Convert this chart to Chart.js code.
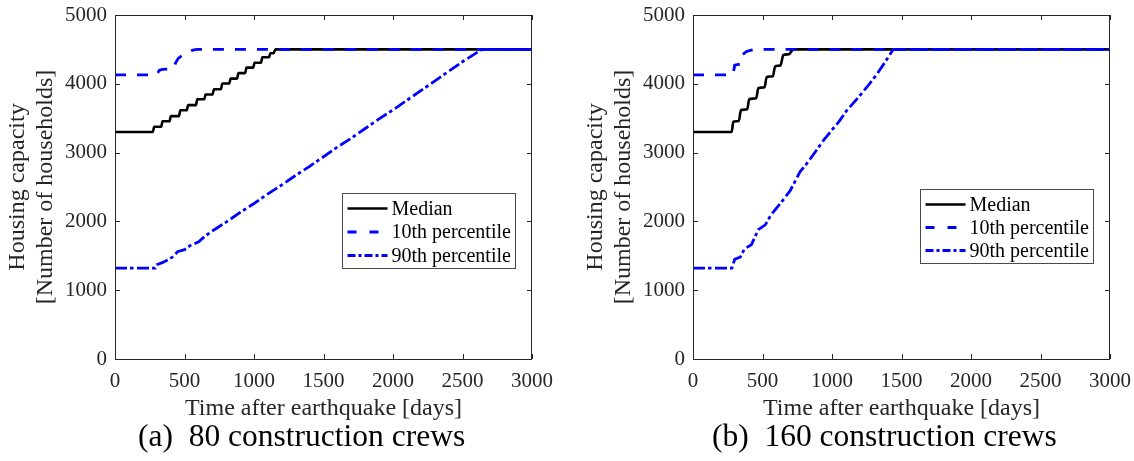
<!DOCTYPE html>
<html>
<head>
<meta charset="utf-8">
<script src="https://cdn.jsdelivr.net/npm/chart.js@4.4.1/dist/chart.umd.min.js"></script>
<style>
  html, body { margin: 0; padding: 0; background: #fff; }
  #wrap { position: relative; width: 1134px; height: 461px; overflow: hidden; }
  .panel { position: absolute; top: 0; width: 567px; height: 461px; }
  .caption {
    position: absolute; top: 420px;
    font-family: "Liberation Serif", "Times New Roman", serif;
    font-size: 31.5px; line-height: 32px; color: #000; white-space: pre;
  }
</style>
</head>
<body>
<div id="wrap">
  <div class="panel" style="left:0"><canvas id="chartA" width="567" height="461"></canvas></div>
  <div class="panel" style="left:567px"><canvas id="chartB" width="567" height="461"></canvas></div>
  <div class="caption" id="capA" style="left:138px"></div>
  <div class="caption" id="capB" style="left:712px"></div>
</div>
<script>
const xTicks = [0, 500, 1000, 1500, 2000, 2500, 3000];
const yTicks = [0, 1000, 2000, 3000, 4000, 5000];
const seriesNames = ["Median", "10th percentile", "90th percentile"];
const xTitle = "Time after earthquake [days]";
const yTitle = ["Housing capacity", "[Number of households]"];
const captions = ["(a)  80 construction crews", "(b)  160 construction crews"];

// (a) 80 construction crews
const medDaysA = [0, 272, 282, 332, 342, 392, 402, 460, 470, 516, 526, 582, 592, 642, 652, 702, 712, 762, 772, 822, 832, 878, 888, 936, 946, 994, 1004, 1050, 1060, 1108, 1118, 1140, 1155, 3000];
const medValsA = [3300, 3300, 3375, 3375, 3455, 3455, 3530, 3530, 3615, 3615, 3690, 3690, 3775, 3775, 3845, 3845, 3920, 3920, 4005, 4005, 4075, 4075, 4155, 4155, 4235, 4235, 4305, 4305, 4385, 4385, 4445, 4445, 4500, 4500];
const p10DaysA = [0, 300, 318, 340, 420, 435, 455, 500, 560, 590, 3000];
const p10ValsA = [4130, 4130, 4195, 4210, 4215, 4300, 4370, 4440, 4490, 4500, 4500];
const p90DaysA = [0, 290, 300, 340, 380, 420, 450, 500, 550, 600, 650, 700, 800, 900, 1000, 1100, 1200, 1300, 1400, 1500, 1600, 1700, 1800, 1900, 2000, 2100, 2200, 2300, 2400, 2500, 2600, 2640, 3000];
const p90ValsA = [1320, 1320, 1370, 1400, 1440, 1490, 1560, 1590, 1660, 1700, 1790, 1860, 1990, 2130, 2260, 2400, 2530, 2670, 2800, 2940, 3080, 3210, 3350, 3490, 3620, 3760, 3900, 4040, 4180, 4320, 4450, 4500, 4500];

// (b) 160 construction crews
const medDaysB = [0, 278, 290, 330, 345, 390, 405, 455, 470, 515, 530, 575, 590, 630, 650, 690, 722, 3000];
const medValsB = [3300, 3300, 3450, 3460, 3620, 3630, 3780, 3790, 3940, 3950, 4100, 4110, 4250, 4270, 4420, 4430, 4500, 4500];
const p10DaysB = [0, 288, 300, 345, 355, 385, 420, 440, 3000];
const p10ValsB = [4130, 4130, 4270, 4290, 4420, 4470, 4490, 4500, 4500];
const p90DaysB = [0, 280, 300, 340, 370, 420, 470, 520, 560, 640, 700, 770, 830, 940, 1000, 1050, 1105, 1180, 1250, 1320, 1380, 1440, 3000];
const p90ValsB = [1320, 1320, 1450, 1480, 1600, 1660, 1880, 1950, 2090, 2290, 2450, 2720, 2870, 3180, 3330, 3450, 3610, 3780, 3950, 4130, 4310, 4500, 4500];

const serif = "'Liberation Serif', 'Times New Roman', serif";
const axisColor = "#262626";

const toPoints = (days, vals) => days.map((d, i) => ({ x: d, y: vals[i] }));

// box, inward ticks and the legend (MATLAB look)
const framePlugin = {
  id: "frame",
  afterDatasetsDraw(chart, args, opts) {
    const { ctx, chartArea: a, scales } = chart;
    ctx.save();
    ctx.strokeStyle = axisColor;
    ctx.lineWidth = 1;
    ctx.setLineDash([]);
    ctx.beginPath();
    scales.x.ticks.forEach((t) => {
      const px = Math.round(scales.x.getPixelForValue(t.value)) + 0.5;
      ctx.moveTo(px, a.bottom);
      ctx.lineTo(px, a.bottom - 5);
      ctx.moveTo(px, a.top);
      ctx.lineTo(px, a.top + 5);
    });
    scales.y.ticks.forEach((t) => {
      const py = Math.round(scales.y.getPixelForValue(t.value)) + 0.5;
      ctx.moveTo(a.left, py);
      ctx.lineTo(a.left + 5, py);
      ctx.moveTo(a.right, py);
      ctx.lineTo(a.right - 5, py);
    });
    ctx.stroke();
    ctx.strokeRect(a.left + 0.5, a.top + 0.5, a.right - a.left - 1, a.bottom - a.top);

    // legend
    const bx = Math.round(a.left + opts.dx) + 0.5;
    const by = Math.round(a.top + opts.dy) + 0.5;
    ctx.fillStyle = "#fff";
    ctx.fillRect(bx, by, opts.w, opts.h);
    ctx.strokeStyle = "#4a4a4a";
    ctx.strokeRect(bx, by, opts.w, opts.h);
    ctx.font = "20px " + serif;
    ctx.textBaseline = "middle";
    chart.data.datasets.forEach((ds, i) => {
      const ry = by + opts.rows[i];
      ctx.strokeStyle = ds.borderColor;
      ctx.lineWidth = ds.borderWidth;
      ctx.setLineDash(ds.legendDash);
      ctx.beginPath();
      ctx.moveTo(bx + 5, ry);
      ctx.lineTo(bx + 45, ry);
      ctx.stroke();
      ctx.fillStyle = "#000";
      ctx.fillText(ds.label, bx + 49, ry + 1);
    });
    ctx.restore();
  }
};

function makeChart(id, med, p10, p90, pad, legendPos) {
  const ctx = document.getElementById(id).getContext("2d");
  return new Chart(ctx, {
    type: "line",
    data: {
      datasets: [
        {
          label: seriesNames[0],
          data: med,
          borderColor: "#000000",
          borderWidth: 2.6,
          cubicInterpolationMode: "monotone",
          legendDash: [],
          order: 3,
        },
        {
          label: seriesNames[1],
          data: p10,
          borderColor: "#0000ff",
          borderWidth: 2.8,
          borderDash: [11, 11],
          legendDash: [9, 13],
          order: 2,
        },
        {
          label: seriesNames[2],
          data: p90,
          borderColor: "#0000ff",
          borderWidth: 2.8,
          borderDash: [12, 3, 3.5, 3.5],
          legendDash: [8, 3, 3, 3],
          order: 1,
        },
      ],
    },
    options: {
      responsive: false,
      animation: false,
      devicePixelRatio: 1,
      layout: { padding: pad },
      elements: { point: { radius: 0 }, line: { tension: 0 } },
      plugins: {
        legend: { display: false },
        tooltip: { enabled: false },
        frame: legendPos,
      },
      scales: {
        x: {
          type: "linear",
          min: 0,
          max: 3000,
          afterBuildTicks: (s) => { s.ticks = xTicks.map((v) => ({ value: v })); },
          afterFit: (s) => {
            s.height = 102;
            s.paddingLeft = 0;
            s.paddingRight = 0;
          },
          grid: { display: false, drawTicks: false },
          border: { display: false },
          ticks: {
            padding: 10,
            color: axisColor,
            font: { family: serif, size: 21 },
            maxRotation: 0,
            callback: (v) => String(v),
          },
          title: {
            display: true,
            text: xTitle,
            color: axisColor,
            font: { family: serif, size: 24 },
            padding: { top: 0, bottom: 38 },
          },
        },
        y: {
          type: "linear",
          min: 0,
          max: 5000,
          afterBuildTicks: (s) => { s.ticks = yTicks.map((v) => ({ value: v })); },
          afterFit: (s) => {
            s.width = 115;
            s.paddingTop = 0;
            s.paddingBottom = 0;
          },
          grid: { display: false, drawTicks: false },
          border: { display: false },
          ticks: {
            padding: 8,
            color: axisColor,
            font: { family: serif, size: 21 },
            callback: (v) => String(v),
          },
          title: {
            display: true,
            text: yTitle,
            color: axisColor,
            font: { family: serif, size: 24, lineHeight: 1.15 },
            padding: { top: 4, bottom: 0 },
          },
        },
      },
    },
    plugins: [framePlugin],
  });
}

makeChart(
  "chartA",
  toPoints(medDaysA, medValsA),
  toPoints(p10DaysA, p10ValsA),
  toPoints(p90DaysA, p90ValsA),
  { top: 15, right: 35, left: 0, bottom: 0 },
  { dx: 227, dy: 178, w: 173, h: 75, rows: [15, 38.5, 62] }
);

makeChart(
  "chartB",
  toPoints(medDaysB, medValsB),
  toPoints(p10DaysB, p10ValsB),
  toPoints(p90DaysB, p90ValsB),
  { top: 15, right: 24, left: 11, bottom: 0 },
  { dx: 227, dy: 174, w: 173, h: 74, rows: [15, 38, 61] }
);

document.getElementById("capA").textContent = captions[0];
document.getElementById("capB").textContent = captions[1];
</script>
</body>
</html>
